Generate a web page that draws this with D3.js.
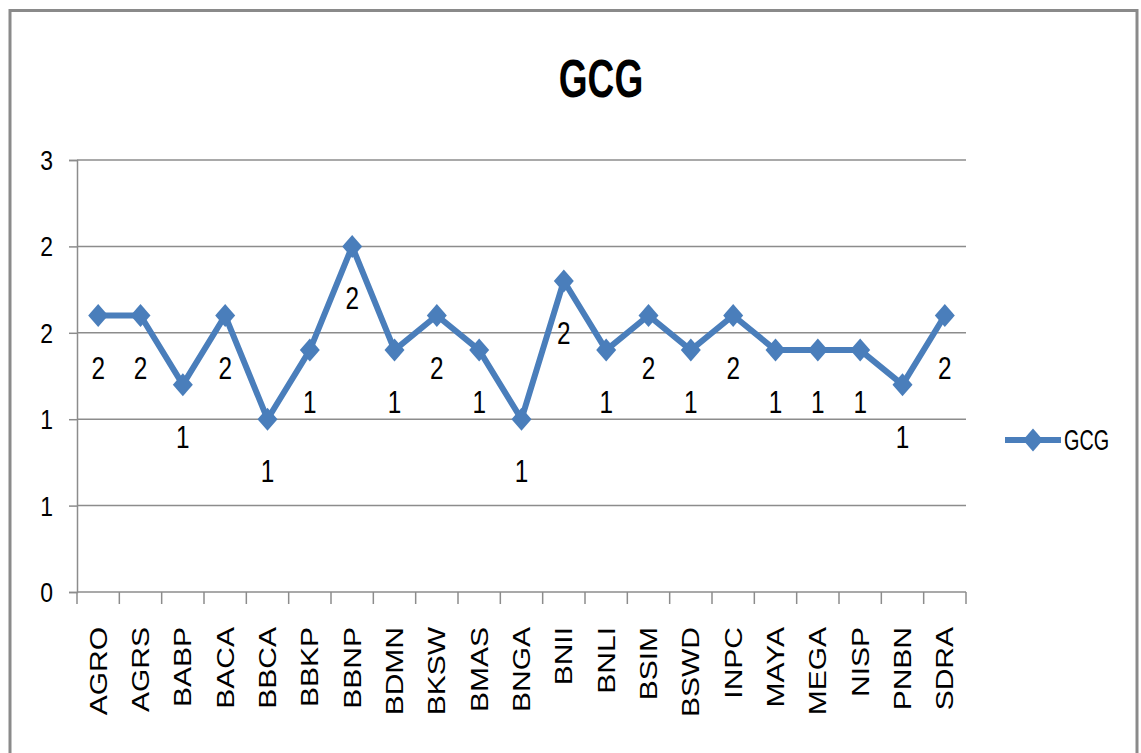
<!DOCTYPE html>
<html>
<head>
<meta charset="utf-8">
<script src="https://cdn.jsdelivr.net/npm/d3@7"></script>
<style>
  html, body { margin: 0; padding: 0; background: #fff; }
  svg { display: block; }
  text { font-family: "Liberation Sans", Arial, sans-serif; fill: #000; }
</style>
</head>
<body>
<svg id="chart" width="1141" height="753"></svg>
<script>
// ---- data ----
const categories = ["AGRO","AGRS","BABP","BACA","BBCA","BBKP","BBNP","BDMN","BKSW","BMAS","BNGA","BNII","BNLI","BSIM","BSWD","INPC","MAYA","MEGA","NISP","PNBN","SDRA"];
const gcgValues  = [1.6, 1.6, 1.2, 1.6, 1.0, 1.4, 2.0, 1.4, 1.6, 1.4, 1.0, 1.8, 1.4, 1.6, 1.4, 1.6, 1.4, 1.4, 1.4, 1.2, 1.6];
const yTicks      = [0, 0.5, 1, 1.5, 2, 2.5];
const yTickLabels = ["0", "1", "1", "2", "2", "3"];
const seriesName = "GCG";
const chartTitle = "GCG";

(function () {
// ---- layout ----
const svg = d3.select("#chart");
const pLeft = 77, pRight = 966, pTop = 160, pBottom = 592;
const blue = "#4a7ebb";
const gridColor = "#8c8c8c";

// outer border
svg.append("rect")
  .attr("x", 10).attr("y", 10.5).attr("width", 1127).attr("height", 800)
  .attr("fill", "none").attr("stroke", "#8a8a8a").attr("stroke-width", 3);

const x = d3.scaleBand().domain(categories).range([pLeft, pRight]).padding(0);
const y = d3.scaleLinear().domain([0, 2.5]).range([pBottom, pTop]);

// gridlines
svg.append("g").selectAll("line").data(yTicks.filter(t => t > 0)).join("line")
  .attr("x1", pLeft).attr("x2", pRight)
  .attr("y1", d => y(d)).attr("y2", d => y(d))
  .attr("stroke", gridColor).attr("stroke-width", 1.5);

// y axis
const yAxis = d3.axisLeft(y).tickValues(yTicks).tickSize(8).tickPadding(0)
  .tickFormat((d, i) => yTickLabels[i]);
const gy = svg.append("g").attr("transform", `translate(${pLeft},0)`).call(yAxis);
gy.select(".domain").attr("stroke", gridColor).attr("stroke-width", 1.5);
gy.selectAll(".tick line").attr("stroke", gridColor).attr("stroke-width", 1.5);
gy.selectAll(".tick text").remove();
svg.append("g").selectAll("text").data(yTicks).join("text")
  .attr("transform", d => `translate(53,${y(d)}) scale(0.82,1)`)
  .attr("text-anchor", "end").attr("dy", "0.36em")
  .style("font-size", "28px")
  .text((d, i) => yTickLabels[i]);

// x axis line + ticks at category boundaries
svg.append("line").attr("x1", pLeft).attr("x2", pRight).attr("y1", pBottom).attr("y2", pBottom)
  .attr("stroke", gridColor).attr("stroke-width", 1.5);
const bounds = categories.map(c => x(c)).concat([x(categories[categories.length - 1]) + x.bandwidth()]);
svg.append("g").selectAll("line").data(bounds).join("line")
  .attr("x1", d => d).attr("x2", d => d).attr("y1", pBottom).attr("y2", pBottom + 12)
  .attr("stroke", gridColor).attr("stroke-width", 1.5);

// x labels (rotated)
svg.append("g").selectAll("text").data(categories).join("text")
  .attr("transform", d => `translate(${x(d) + x.bandwidth() / 2},627) rotate(-90) scale(1,0.8)`)
  .attr("text-anchor", "end").attr("dy", "0.36em")
  .style("font-size", "30px")
  .text(d => d);

// line
const cx = (d, i) => x(categories[i]) + x.bandwidth() / 2;
const line = d3.line().x((d, i) => cx(d, i)).y(d => y(d));
svg.append("path").datum(gcgValues)
  .attr("d", line).attr("fill", "none")
  .attr("stroke", blue).attr("stroke-width", 6).attr("stroke-linejoin", "round");

// diamond markers
const dw = 10, dh = 11.5;
const diamond = `M0,${-dh}L${dw},0L0,${dh}L${-dw},0Z`;
svg.append("g").selectAll("path").data(gcgValues).join("path")
  .attr("transform", (d, i) => `translate(${cx(d, i)},${y(d)})`)
  .attr("d", diamond).attr("fill", blue);

// data labels
svg.append("g").selectAll("text").data(gcgValues).join("text")
  .attr("transform", (d, i) => `translate(${cx(d, i)},${y(d) + 63}) scale(0.76,1)`)
  .attr("text-anchor", "middle")
  .style("font-size", "32px")
  .text(d => String(Math.round(d)));

// title
svg.append("text")
  .attr("transform", "translate(601,97) scale(0.7,1)")
  .attr("text-anchor", "middle")
  .style("font-size", "53px").style("font-weight", "bold")
  .text(chartTitle);

// legend
const lg = svg.append("g").attr("transform", "translate(1005,440)");
lg.append("line").attr("x1", 0).attr("x2", 56).attr("y1", 0).attr("y2", 0)
  .attr("stroke", blue).attr("stroke-width", 6);
lg.append("path").attr("transform", "translate(28,0)").attr("d", diamond).attr("fill", blue);
lg.append("text")
  .attr("transform", "translate(59,10) scale(0.66,1)")
  .style("font-size", "30px")
  .text(seriesName);
})();
</script>
</body>
</html>
